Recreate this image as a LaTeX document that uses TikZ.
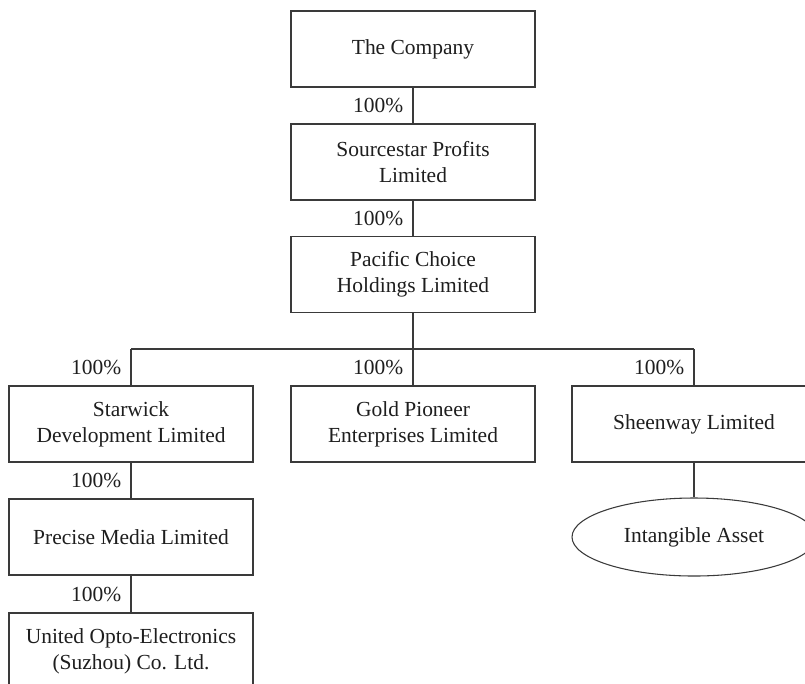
\documentclass[tikz,border=0pt]{standalone}
\usepackage{fontspec}
\setmainfont{Liberation Serif}
\usetikzlibrary{shapes.geometric}
\definecolor{linecol}{HTML}{3A3A3A}
\definecolor{txtcol}{HTML}{1E1E1E}
\begin{document}
\begin{tikzpicture}[x=0.75pt,y=-0.75pt,
  every node/.style={text=txtcol,font=\fontsize{16.1}{19.5}\selectfont},
  entity/.style={draw=linecol,line width=0.8pt,rectangle,minimum width=183pt,minimum height=57pt,inner sep=0pt,align=center},
  asset/.style={draw=linecol,line width=0.8pt,ellipse,minimum width=183pt,minimum height=58.5pt,inner sep=0pt,align=center},
  link/.style={draw=linecol,line width=0.8pt},
  pct/.style={anchor=east,inner sep=0pt,xshift=-7pt}]
\useasboundingbox (0,0) rectangle (805,683);
\clip (0,0) rectangle (805,683);
\fill[white] (0,0) rectangle (805,683);
\node[entity] (comp) at (413,49) {The Company};
\node[entity] (sour) at (413,162) {Sourcestar Profits\\ Limited};
\node[entity] (paci) at (413,274.5) {Pacific Choice\\Holdings Limited};
\node[entity] (star) at (131,424) {Starwick\\Development Limited};
\node[entity] (gold) at (413,424) {Gold Pioneer\\Enterprises Limited};
\node[entity] (shee) at (694,424) {Sheenway Limited};
\node[entity] (prec) at (131,537) {Precise Media Limited};
\node[entity] (unit) at (131,651) {United Opto-Electronics\\(Suzhou) Co. Ltd.};
\node[asset] (inta) at (694,537) {Intangible Asset};
\coordinate (bus) at (413,349);
\draw[link] (comp.south) -- node[pct]{100\%} (sour.north);
\draw[link] (sour.south) -- node[pct]{100\%} (paci.north);
\draw[link] (paci.south) -- (bus);
\draw[link] (star.north |- bus) -- (shee.north |- bus);
\draw[link] (star.north |- bus) -- node[pct]{100\%} (star.north);
\draw[link] (gold.north |- bus) -- node[pct]{100\%} (gold.north);
\draw[link] (shee.north |- bus) -- node[pct]{100\%} (shee.north);
\draw[link] (star.south) -- node[pct]{100\%} (prec.north);
\draw[link] (prec.south) -- node[pct]{100\%} (unit.north);
\draw[link] (shee.south) -- (inta.north);
\end{tikzpicture}
\end{document}
